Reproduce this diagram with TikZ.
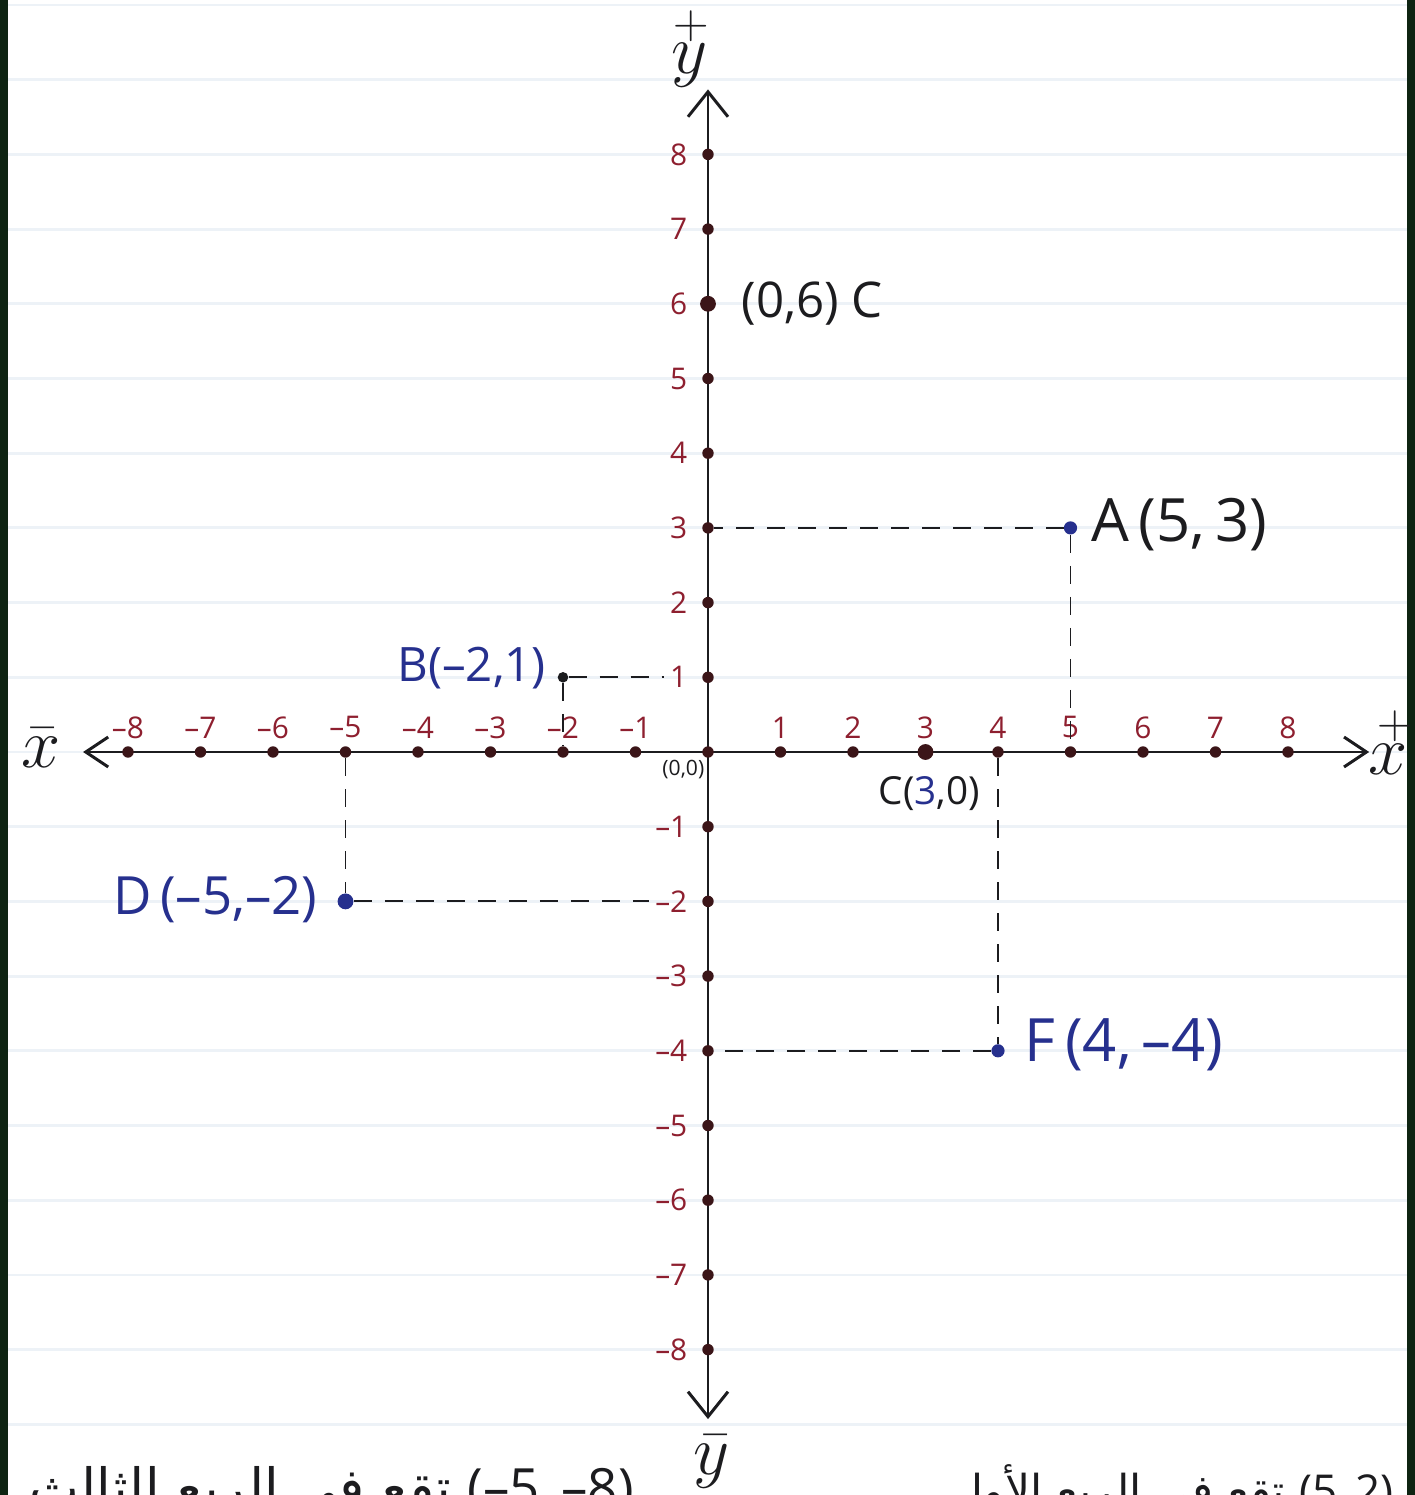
\documentclass[tikz,border=0pt]{standalone}
\usepackage{fix-cm}
\usepackage{fontspec}
\setmainfont{Open Sans}
\newfontfamily\arabicfont[Script=Arabic]{DejaVu Sans}
\TeXXeTstate=1
\usepackage{tikz}
\usetikzlibrary{arrows.meta,positioning,calc}
\definecolor{planeInk}{HTML}{1C1C1F}
\definecolor{planeRed}{HTML}{8E1F2F}
\definecolor{planeDot}{HTML}{3B1518}
\definecolor{planeBlue}{HTML}{26308E}
\definecolor{planeRule}{HTML}{EDF2F7}
\definecolor{planeEdge}{HTML}{0E2412}
\newcommand{\mn}{\textendash}

\begin{document}
\begin{tikzpicture}[
  x=1.45cm,y=1.494cm,
  axis/.style={planeInk,line width=1.7pt},
  tickdot/.style={circle,fill=planeDot,inner sep=0pt,minimum size=6.5pt},
  bigdot/.style={tickdot,minimum size=9pt},
  ptdot/.style={circle,fill=planeBlue,inner sep=0pt,minimum size=7.5pt},
  xlbl/.style={planeRed,font=\fontsize{17}{20}\selectfont},
  ylbl/.style={planeRed,font=\fontsize{17}{20}\selectfont,anchor=east},
  ptlbl/.style={planeBlue,font=\fontsize{30}{36}\selectfont},
  guide/.style={planeInk,line width=1.1pt,dash pattern=on 0.36cm off 0.26cm},
  axlbl/.style={planeInk,font=\fontsize{40}{46}\selectfont},
  note/.style={planeInk,font=\arabicfont\fontsize{30}{36}\selectfont}
]
\useasboundingbox (-14.16cm,-14.86cm) rectangle (14.14cm,15.04cm);
\clip (-14.16cm,-14.86cm) rectangle (14.14cm,15.04cm);
\fill[white] (-14.16cm,-14.86cm) rectangle (14.14cm,15.04cm);

% Ruled paper
\foreach \r in {-9,...,10}
  \draw[planeRule,line width=1.6pt] (-9.8,\r) -- (9.8,\r);
\fill[planeEdge] (-14.16cm,-14.86cm) rectangle (-14.0cm,15.04cm);
\fill[planeEdge] (13.98cm,-14.86cm) rectangle (14.14cm,15.04cm);

% Axes
\coordinate (xl) at (-8.62,0);
\coordinate (xr) at (9.12,0);
\coordinate (yb) at (0,-8.93);
\coordinate (yt) at (0,8.87);
\draw[axis,{Straight Barb[length=4.5mm,width=6mm]}-{Straight Barb[length=4.5mm,width=6mm]}] (xl) -- (xr);
\draw[axis,{Straight Barb[length=5mm,width=8mm]}-{Straight Barb[length=5mm,width=8mm]}] (yb) -- (yt);

\node[axlbl] (xneg) at (-9.2,0.06)  {$\bar{x}$};
\node[axlbl] (xpos) at (9.38,0.12)  {$\stackrel{\;+}{x}$};
\node[axlbl] (ypos) at (-0.25,9.42) {$\stackrel{+}{y}$};
\node[axlbl] (yneg) at (0.05,-9.5)  {$\bar{y}$};

% Ticks and numbers
\node[tickdot] (o) at (0,0) {};
\foreach \i in {1,...,8}{
  \node[tickdot] (xp\i) at (\i,0) {};
  \node[tickdot] (xn\i) at (-\i,0) {};
  \node[tickdot] (yp\i) at (0,\i) {};
  \node[tickdot] (yn\i) at (0,-\i) {};
  \node[xlbl] (lxp\i) at (\i,0.33) {\i};
  \node[xlbl] (lxn\i) at (-\i,0.33) {\mn\i};
  \node[ylbl] (lyp\i) at (-0.2,\i) {\i};
  \node[ylbl] (lyn\i) at (-0.2,-\i) {\mn\i};
}
\node[bigdot] at (xp3) {};
\node[bigdot] at (yp6) {};
\node[planeInk,font=\fontsize{12}{14}\selectfont] (orig) at (-0.34,-0.24) {(0,0)};

% Points
\node[ptdot] (ptA) at (5,3) {};
\node[ptdot,fill=planeInk,minimum size=6pt] (ptB) at (-2,1) {};
\node[ptdot,minimum size=9pt] (ptD) at (-5,-2) {};
\node[ptdot] (ptF) at (4,-4) {};

\draw[guide] (ptA) -- (yp3);
\draw[guide] (ptA) -- (xp5);
\draw[guide] (ptB) -- (lyp1);
\draw[guide] (ptB) -- (xn2);
\draw[guide] (xn5) -- (ptD);
\draw[guide] (ptD) -- (lyn2);
\draw[guide] (xp4) -- (ptF);
\draw[guide] (ptF) -- (yn4);

\node[ptlbl,planeInk,anchor=west,font=\fontsize{34}{40}\selectfont] (labA) at (5.2,3.05) {A\,(5,\,3)};
\node[ptlbl,anchor=east,font=\fontsize{27}{32}\selectfont] (labB) at (-2.15,1.12) {B(\mn2,1)};
\node[ptlbl,anchor=east] (labD) at (-5.3,-1.98) {D\,(\mn5,\mn2)};
\node[ptlbl,anchor=west,font=\fontsize{34}{40}\selectfont] (labF) at (4.28,-3.92) {F\,(4,\,\mn4)};
\node[ptlbl,planeInk,anchor=west,font=\fontsize{28}{34}\selectfont] (labC) at (0.38,6) {(0,6) C};
\node[planeInk,font=\fontsize{22}{26}\selectfont] (labCx) at (3.05,-0.55) {C(\textcolor{planeBlue}{3},0)};

% Notes (cut by the page edge)
\node[note,anchor=base east] (noteL) at (-0.94,-10.1)
  {\beginR\beginL{\rmfamily(\mn5,\,\mn8)}\endL{} تقع في الربع الثالث\endR};
\node[note,anchor=base east,font=\arabicfont\fontsize{25}{30}\selectfont] (noteR) at (9.54,-10.1)
  {\beginR\beginL{\rmfamily(5,\,2)}\endL{} تقع في الربع الأول\endR};
\end{tikzpicture}
\end{document}
